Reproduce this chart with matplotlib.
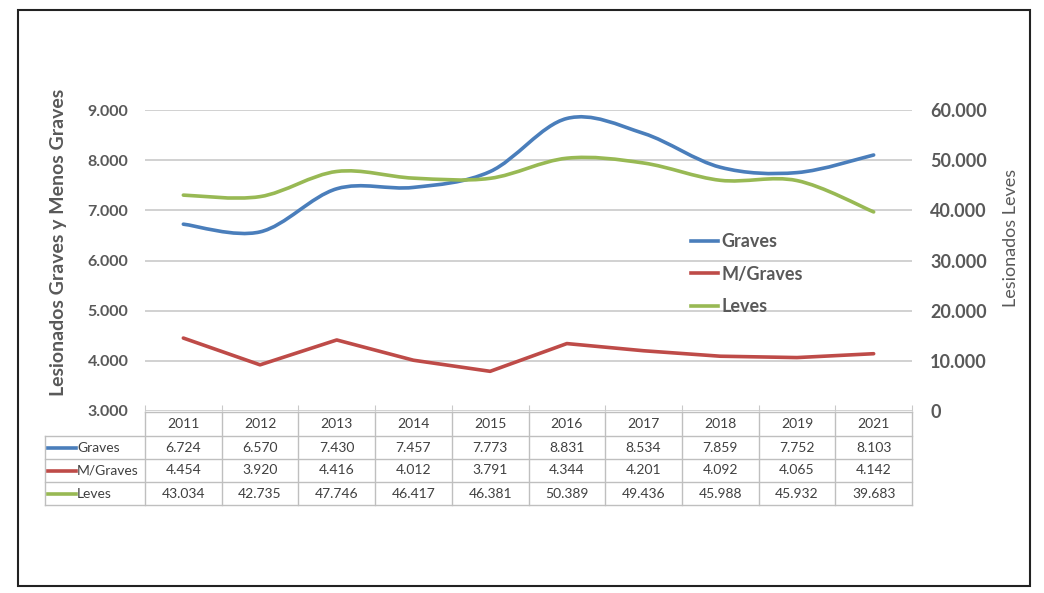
import matplotlib
matplotlib.use('Agg')
import matplotlib.pyplot as plt
import matplotlib.transforms as mtransforms
from matplotlib.path import Path
from matplotlib.patches import PathPatch, Rectangle
from matplotlib.lines import Line2D
from matplotlib.ticker import FuncFormatter
import numpy as np

plt.rcParams['font.family'] = ['Lato', 'DejaVu Sans']

years = ['2011', '2012', '2013', '2014', '2015', '2016', '2017', '2018', '2019', '2021']
graves = [6724, 6570, 7430, 7457, 7773, 8831, 8534, 7859, 7752, 8103]
m_graves = [4454, 3920, 4416, 4012, 3791, 4344, 4201, 4092, 4065, 4142]
leves = [43034, 42735, 47746, 46417, 46381, 50389, 49436, 45988, 45932, 39683]

c_graves = '#4A7EBB'
c_mgraves = '#BE4B48'
c_leves = '#98B954'
txt = '#595959'
grid_c = '#C9C9C9'

W, H = 1044, 593
fig = plt.figure(figsize=(W / 100, H / 100), dpi=100)
ax = fig.add_axes([145 / W, 1 - 411 / H, 767 / W, 301 / H])
ax2 = ax.twinx()


def fmt(v, pos=None):
    v = int(round(v))
    return f"{v:,}".replace(",", ".")


def smooth_path(xs, ys):
    # Excel-style smoothed line drawn as cubic Bezier segments
    n = len(xs)
    verts = [(xs[0], ys[0])]
    codes = [Path.MOVETO]
    for i in range(n - 1):
        p0 = np.array([xs[max(i - 1, 0)], ys[max(i - 1, 0)]], float)
        p1 = np.array([xs[i], ys[i]], float)
        p2 = np.array([xs[i + 1], ys[i + 1]], float)
        p3 = np.array([xs[min(i + 2, n - 1)], ys[min(i + 2, n - 1)]], float)
        c1 = p1 + (p2 - p0) / 6
        c2 = p2 - (p3 - p1) / 6
        verts += [tuple(c1), tuple(c2), tuple(p2)]
        codes += [Path.CURVE4] * 3
    return Path(verts, codes)


x = np.arange(len(years))

ax.add_patch(PathPatch(smooth_path(x, graves), fill=False, edgecolor=c_graves,
                       lw=2.6, capstyle='round', zorder=3))
ax.plot(x, m_graves, color=c_mgraves, lw=2.6, solid_capstyle='round', zorder=3)
ax2.add_patch(PathPatch(smooth_path(x, leves), fill=False, edgecolor=c_leves,
                        lw=2.6, capstyle='round', zorder=3))

ax.set_xlim(-0.5, len(years) - 0.5)
ax.set_ylim(3000, 9000)
ax2.set_ylim(0, 60000)
ax.set_yticks(np.arange(3000, 9001, 1000))
ax2.set_yticks(np.arange(0, 60001, 10000))
ax.yaxis.set_major_formatter(FuncFormatter(fmt))
ax2.yaxis.set_major_formatter(FuncFormatter(fmt))

for a in (ax, ax2):
    for s in a.spines.values():
        s.set_visible(False)
ax.grid(axis='y', color=grid_c, lw=1.2)
ax.set_axisbelow(True)

ax.set_xticks(np.arange(-0.5, len(years), 1))
ax.set_xticklabels([])
ax.tick_params(axis='x', direction='in', length=4, color=grid_c)
ax.tick_params(axis='y', length=0, pad=12, labelsize=11.5, labelcolor=txt)
ax2.tick_params(axis='y', length=0, pad=13, labelsize=13, labelcolor=txt)
for lab in ax.get_yticklabels() + ax2.get_yticklabels():
    lab.set_fontweight('bold')

ax.set_ylabel('Lesionados Graves y Menos Graves', fontsize=14, fontweight='bold', color=txt)
ax.yaxis.set_label_coords(-0.102, 0.56)
ax2.set_ylabel('Lesionados Leves', fontsize=13, color=txt, rotation=90)
ax2.yaxis.set_label_coords(1.119, 0.575)

# legend
handles = [Line2D([], [], color=c_graves, lw=2.6),
           Line2D([], [], color=c_mgraves, lw=2.6),
           Line2D([], [], color=c_leves, lw=2.6)]
leg = fig.legend(handles, ['Graves', 'M/Graves', 'Leves'], loc='upper left',
                 bbox_to_anchor=(684 / W, 1 - 226 / H), frameon=False,
                 prop={'size': 13, 'weight': 'bold'}, handlelength=1.5,
                 handletextpad=0.15, labelspacing=0.86, borderaxespad=0)
for t in leg.get_texts():
    t.set_color(txt)

# data table under the plot
blend = mtransforms.blended_transform_factory(ax.transData, fig.transFigure)
rows_px = [412, 436, 459, 482, 505]
rows = [1 - r / H for r in rows_px]
lab_left = -0.5 - 100 / 76.7
right = len(years) - 0.5
tbl_c = '#BFBFBF'


def hline(y, x0, x1):
    fig.add_artist(Line2D([x0, x1], [y, y], color=tbl_c, lw=1, transform=blend))


def vline(xv, y0, y1):
    fig.add_artist(Line2D([xv, xv], [y0, y1], color=tbl_c, lw=1, transform=blend))


hline(rows[0], -0.5, right)
for r in rows[1:]:
    hline(r, lab_left, right)
for xe in np.arange(-0.5, len(years), 1):
    vline(xe, rows[0], rows[-1])
vline(lab_left, rows[1], rows[-1])

cell_fs = 10
cell_c = '#404040'
ymid = [(rows[i] + rows[i + 1]) / 2 for i in range(4)]
for i, yr in enumerate(years):
    fig.text(i, ymid[0], yr, transform=blend, ha='center', va='center',
             fontsize=cell_fs, color=cell_c)

series = [('Graves', graves, c_graves), ('M/Graves', m_graves, c_mgraves),
          ('Leves', leves, c_leves)]
for k, (name, vals, col) in enumerate(series):
    y = ymid[k + 1]
    for i, v in enumerate(vals):
        fig.text(i, y, fmt(v), transform=blend, ha='center', va='center',
                 fontsize=cell_fs, color=cell_c)
    fig.add_artist(Line2D([48 / W, 76 / W], [y, y], color=col, lw=2.6,
                          transform=fig.transFigure))
    fig.text(77 / W, y, name, ha='left', va='center', fontsize=cell_fs,
             color=cell_c)

# outer border
fig.add_artist(Rectangle((18 / W, 1 - 586 / H), (1030 - 18) / W, (586 - 10) / H,
                         fill=False, edgecolor='#222222', lw=1.5,
                         transform=fig.transFigure))

fig.savefig('out.png', dpi=100, facecolor='white')
